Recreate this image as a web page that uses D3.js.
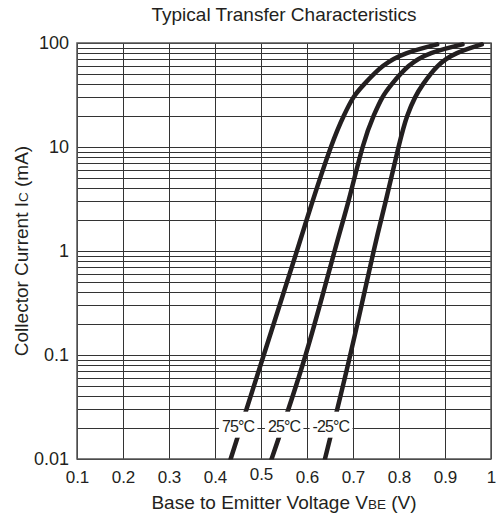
<!DOCTYPE html>
<html><head><meta charset="utf-8">
<script src="https://cdn.jsdelivr.net/npm/d3@7"></script>
<style>
body{margin:0;background:#fff}
svg{display:block}
text{font-family:"Liberation Sans",Arial,Helvetica,sans-serif;fill:#231f20}
</style>
</head><body>
<svg id="c" width="496" height="517"></svg>
<script>
// ---- data ----
const xTicks = [0.1,0.2,0.3,0.4,0.5,0.6,0.7,0.8,0.9,1.0];
const xTickLabels = ["0.1","0.2","0.3","0.4","0.5","0.6","0.7","0.8","0.9","1"];
const yTicks = [0.01,0.1,1,10,100];
const yTickLabels = ["0.01","0.1","1","10","100"];
const seriesNames = ["75°C","25°C","-25°C"];
const icPoints = [0.01,0.1,1,3,10,20,30,40,60,80,97];
const vbe75  = [0.434,0.506,0.578,0.612,0.652,0.680,0.701,0.724,0.765,0.817,0.883];
const vbe25  = [0.523,0.597,0.660,0.690,0.721,0.745,0.764,0.784,0.821,0.870,0.938];
const vbeM25 = [0.639,0.694,0.745,0.771,0.799,0.818,0.835,0.852,0.884,0.926,0.980];
const labelVbe = [0.450,0.550,0.652];
const labelIc = 0.02;

const svg = d3.select("#c");
const W = 496, H = 517;
const m = {l:77, r:5, t:43, b:58};
const x = d3.scaleLinear().domain([0.1,1.0]).range([m.l, W-m.r]);
const y = d3.scaleLog().domain([0.01,100]).range([H-m.b, m.t]);

// grid
const grid = svg.append("g").attr("shape-rendering","crispEdges");
const hLines = [];
[0.01,0.1,1,10].forEach(d => { for (let k=1;k<10;k++) hLines.push(d*k); });
hLines.push(100);
grid.selectAll("line.h").data(hLines).join("line")
  .attr("x1",x(0.1)).attr("x2",x(1.0))
  .attr("y1",d=>Math.round(y(d))+0.5).attr("y2",d=>Math.round(y(d))+0.5)
  .attr("stroke","#333").attr("stroke-width",1);
grid.selectAll("line.v").data(xTicks).join("line")
  .attr("y1",y(0.01)).attr("y2",y(100))
  .attr("x1",d=>Math.round(x(d))+0.5).attr("x2",d=>Math.round(x(d))+0.5)
  .attr("stroke","#333").attr("stroke-width",1);
svg.append("rect").attr("x",x(0.1)).attr("y",y(100)).attr("width",x(1)-x(0.1)).attr("height",y(0.01)-y(100))
  .attr("fill","none").attr("stroke","#555").attr("stroke-width",1.5);

// curves
svg.append("clipPath").attr("id","pc").append("rect")
  .attr("x",0).attr("y",0).attr("width",W).attr("height",y(0.01)+0.5);
const series = [vbe75, vbe25, vbeM25];
const line = d3.line().x(d=>x(d[0])).y(d=>y(d[1])).curve(d3.curveNatural);
series.forEach(v => {
  svg.append("path").datum(v.map((vv,i)=>[vv,icPoints[i]]))
    .attr("clip-path","url(#pc)")
    .attr("d",line).attr("fill","none").attr("stroke","#231f20")
    .attr("stroke-width",4.5).attr("stroke-linecap","round");
});

// series labels
seriesNames.forEach((n,i) => {
  const cx = x(labelVbe[i]), cy = y(labelIc)-3;
  const g = svg.append("g");
  const t = g.append("text").attr("x",cx).attr("y",cy+7).attr("text-anchor","middle")
    .attr("font-size",16).attr("letter-spacing","-0.9").text(n);
  const bb = t.node().getBBox();
  g.insert("rect","text").attr("x",bb.x-3).attr("y",cy-13).attr("width",bb.width+6).attr("height",26).attr("fill","#fff");
});

// axes
const xAxis = svg.append("g").attr("transform",`translate(0,${y(0.01)})`)
  .call(d3.axisBottom(x).tickValues(xTicks).tickSize(0).tickPadding(12).tickFormat((d,i)=>xTickLabels[i]));
xAxis.select(".domain").remove();
xAxis.selectAll("text").attr("font-size",17).attr("fill","#231f20").attr("font-family",null)
  .attr("dy",(d,i)=>xTickLabels[i]==="0.5"?"0.55em":"0.71em");
const yAxis = svg.append("g").attr("transform",`translate(${x(0.1)},0)`)
  .call(d3.axisLeft(y).tickValues(yTicks).tickSize(0).tickPadding(8).tickFormat((d,i)=>yTickLabels[i]));
yAxis.select(".domain").remove();
yAxis.selectAll("text").attr("font-size",18).attr("fill","#231f20").attr("font-family",null);

// title
svg.append("text").attr("x",(x(0.1)+x(1))/2).attr("y",21).attr("text-anchor","middle")
  .attr("font-size",19).text("Typical Transfer Characteristics");

// x label
const xl = svg.append("text").attr("x",(x(0.1)+x(1))/2).attr("y",509).attr("text-anchor","middle").attr("font-size",19);
xl.append("tspan").text("Base to Emitter Voltage  V");
xl.append("tspan").attr("font-size",13.5).text("BE");
xl.append("tspan").text(" (V)");

// y label
const yl = svg.append("text").attr("transform",`translate(28,${(y(0.01)+y(100))/2}) rotate(-90)`)
  .attr("text-anchor","middle").attr("font-size",19);
yl.append("tspan").text("Collector Current I");
yl.append("tspan").attr("font-size",13.5).text("C");
yl.append("tspan").text(" (mA)");
</script>
</body></html>
